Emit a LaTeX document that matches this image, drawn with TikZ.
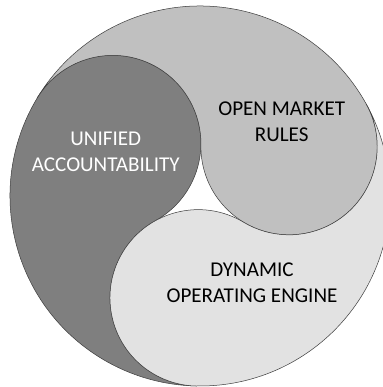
\documentclass[tikz,border=0pt]{standalone}
\usepackage{fontspec}
\setmainfont{Carlito}
\usepackage{tikz}
\definecolor{darkpart}{RGB}{127,127,127}
\definecolor{midpart}{RGB}{192,192,192}
\definecolor{lightpart}{RGB}{226,226,226}
\definecolor{edge}{RGB}{60,60,60}

\begin{document}
\begin{tikzpicture}[x=0.035cm,y=0.035cm,
    part/.style={draw=edge,line width=0.5pt},
    label/.style={align=center,font=\fontsize{21}{26}\selectfont}]
                        \useasboundingbox (-200,-191) rectangle (183,196);
                        \fill[white] (-200,-191) rectangle (183,196);
                        \def\R{190}
                        \def\r{88.2}

                        % dark part on the left
                        \draw[part,fill=darkpart] (149:\R) arc[start angle=149,end angle=269,radius=\R]
                            arc[start angle=269,end angle=119,radius=\r]
                            arc[start angle=-61,end angle=149,radius=\r] -- cycle;
                        % middle grey part on top
                        \draw[part,fill=midpart] (29:\R) arc[start angle=29,end angle=149,radius=\R]
                            arc[start angle=149,end angle=-1,radius=\r]
                            arc[start angle=179,end angle=389,radius=\r] -- cycle;
                        % light part at the bottom
                        \draw[part,fill=lightpart] (269:\R) arc[start angle=269,end angle=389,radius=\R]
                            arc[start angle=29,end angle=-121,radius=\r]
                            arc[start angle=59,end angle=269,radius=\r] -- cycle;

                        \node[label,white] (unified) at (-94.2,44.6) {UNIFIED\\ACCOUNTABILITY};
                        \node[label] (market) at (81.7,74.5) {OPEN MARKET\\RULES};
                        \node[label] (engine) at (52,-87) {DYNAMIC\\OPERATING ENGINE};
                    \end{tikzpicture}
\end{document}
